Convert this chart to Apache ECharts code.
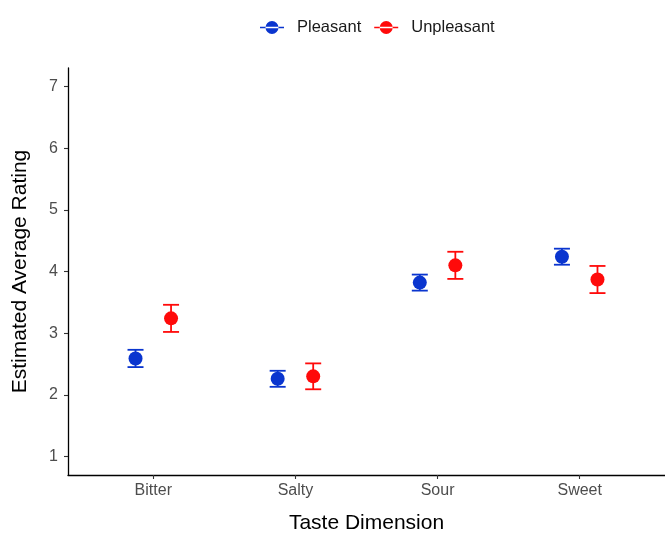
<!DOCTYPE html>
<html>
<head>
<meta charset="utf-8">
<script src="https://cdn.jsdelivr.net/npm/echarts@6/dist/echarts.min.js"></script>
<style>
html,body{margin:0;padding:0;background:#fff;}
#chart{width:665px;height:539px;}
</style>
</head>
<body>
<div id="chart"></div>
<script>
const categories = ['Bitter', 'Salty', 'Sour', 'Sweet'];
const yTicks = [1, 2, 3, 4, 5, 6, 7];
const pleasantMean = [2.59, 2.26, 3.82, 4.24];
const pleasantLow  = [2.45, 2.13, 3.69, 4.11];
const pleasantHigh = [2.73, 2.39, 3.95, 4.37];
const unpleasantMean = [3.24, 2.30, 4.10, 3.87];
const unpleasantLow  = [3.02, 2.09, 3.88, 3.65];
const unpleasantHigh = [3.46, 2.51, 4.32, 4.09];

const dodge = 0.125;
const colors = { Pleasant: '#0a35cf', Unpleasant: '#ff0a0a' };
const FONT = '"Liberation Sans", Arial, sans-serif';

function pts(mean, off) { return mean.map((v, i) => [i + 1 + off, v]); }
function errs(lo, hi, off) { return lo.map((v, i) => [i + 1 + off, v, hi[i]]); }

function errRender(color) {
  return function (params, api) {
    const x = api.value(0);
    const a = api.coord([x, api.value(1)]);
    const b = api.coord([x, api.value(2)]);
    const hw = 8;
    const st = { stroke: color, lineWidth: 1.8 };
    return {
      type: 'group',
      children: [
        { type: 'line', shape: { x1: a[0], y1: a[1], x2: b[0], y2: b[1] }, style: st },
        { type: 'line', shape: { x1: a[0] - hw, y1: a[1], x2: a[0] + hw, y2: a[1] }, style: st },
        { type: 'line', shape: { x1: b[0] - hw, y1: b[1], x2: b[0] + hw, y2: b[1] }, style: st }
      ]
    };
  };
}

const legendIcon = 'path://M0,6.2 L24,6.2 L24,7.8 L0,7.8 Z M5.5,7 A6.5,6.5 0 1 0 18.5,7 A6.5,6.5 0 1 0 5.5,7 Z';

const chart = echarts.init(document.getElementById('chart'), null, { renderer: 'canvas' });
chart.setOption({
  backgroundColor: '#ffffff',
  animation: false,
  textStyle: { fontFamily: FONT },
  legend: {
    top: 14,
    left: 255,
    itemWidth: 24,
    itemHeight: 14,
    itemGap: 13,
    textStyle: { fontSize: 16.5, color: '#1a1a1a', fontFamily: FONT, padding: [0, 0, 0, 8] },
    data: [
      { name: 'Pleasant', icon: legendIcon },
      { name: 'Unpleasant', icon: legendIcon }
    ]
  },
  color: [colors.Pleasant, colors.Unpleasant],
  grid: { left: 68, right: 0, top: 68, bottom: 58, containLabel: false },
  xAxis: {
    type: 'value',
    min: 0.4,
    max: 4.6,
    name: 'Taste Dimension',
    nameLocation: 'middle',
    nameGap: 38,
    nameTextStyle: { fontSize: 21, color: '#000', fontFamily: FONT },
    axisLine: { show: true, onZero: false, lineStyle: { color: '#000', width: 1.3 } },
    axisTick: { show: true, length: 4, customValues: [1, 2, 3, 4], lineStyle: { color: '#333', width: 1.1 } },
    axisLabel: {
      show: true, margin: 8, fontSize: 16, color: '#4d4d4d', fontFamily: FONT,
      customValues: [1, 2, 3, 4],
      formatter: function (v) { return categories[Math.round(v) - 1] || ''; }
    },
    splitLine: { show: false }
  },
  yAxis: {
    type: 'value',
    min: 0.7,
    max: 7.3,
    name: 'Estimated Average Rating',
    nameLocation: 'middle',
    nameGap: 37,
    nameTextStyle: { fontSize: 21, color: '#000', fontFamily: FONT },
    axisLine: { show: true, onZero: false, lineStyle: { color: '#000', width: 1.3 } },
    axisTick: { show: true, length: 4, customValues: yTicks, lineStyle: { color: '#333', width: 1.1 } },
    axisLabel: { show: true, margin: 10, fontSize: 16, color: '#4d4d4d', fontFamily: FONT, customValues: yTicks },
    splitLine: { show: false }
  },
  series: [
    {
      name: 'Pleasant', type: 'custom',
      renderItem: errRender(colors.Pleasant),
      encode: { x: 0, y: [1, 2] },
      data: errs(pleasantLow, pleasantHigh, -dodge),
      z: 2
    },
    {
      name: 'Unpleasant', type: 'custom',
      renderItem: errRender(colors.Unpleasant),
      encode: { x: 0, y: [1, 2] },
      data: errs(unpleasantLow, unpleasantHigh, dodge),
      z: 2
    },
    {
      name: 'Pleasant', type: 'scatter', symbol: 'circle', symbolSize: 14,
      itemStyle: { color: colors.Pleasant, opacity: 1 },
      data: pts(pleasantMean, -dodge), z: 3
    },
    {
      name: 'Unpleasant', type: 'scatter', symbol: 'circle', symbolSize: 14,
      itemStyle: { color: colors.Unpleasant, opacity: 1 },
      data: pts(unpleasantMean, dodge), z: 3
    }
  ]
});
</script>
</body>
</html>
